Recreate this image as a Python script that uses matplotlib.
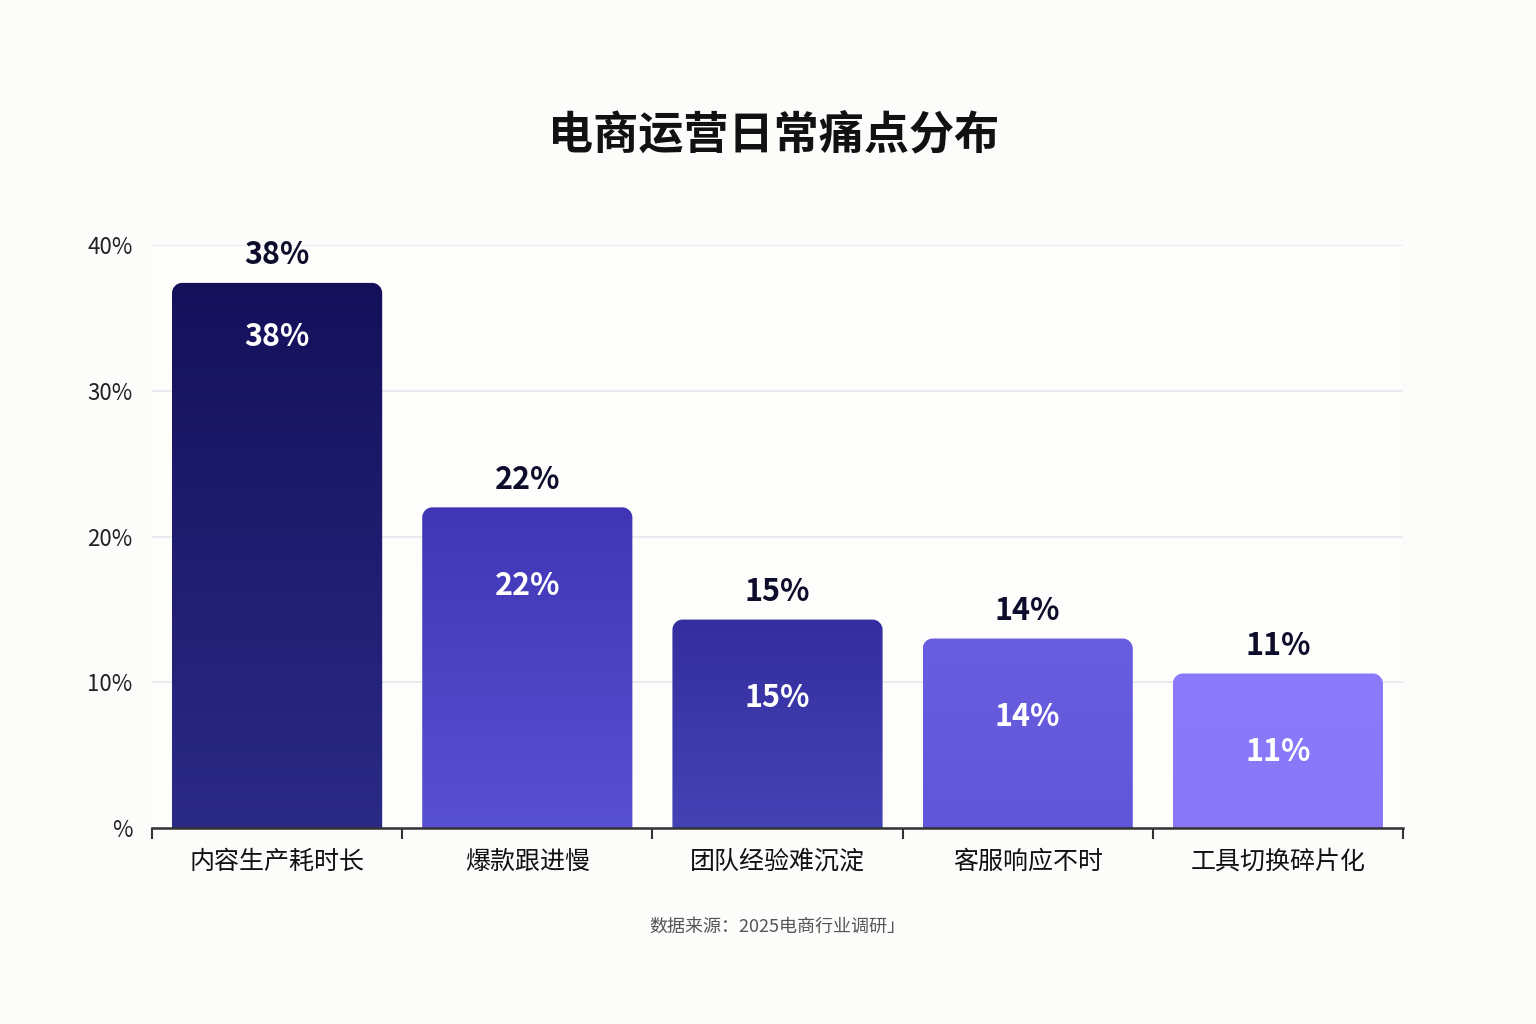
import matplotlib
matplotlib.use("Agg")
import matplotlib.pyplot as plt
import numpy as np
from matplotlib.path import Path
from matplotlib.patches import PathPatch
from matplotlib.colors import LinearSegmentedColormap

plt.rcParams["font.family"] = ["Noto Sans CJK SC", "DejaVu Sans"]

categories = ["内容生产耗时长", "爆款跟进慢", "团队经验难沉淀", "客服响应不时", "工具切换碎片化"]
values = [37.4, 22.0, 14.3, 13.0, 10.6]
value_labels = ["38%", "22%", "15%", "14%", "11%"]
yticks = [0, 10, 20, 30, 40]
ytick_labels = ["%", "10%", "20%", "30%", "40%"]

top_colors = ["#14105a", "#4036b5", "#342e9e", "#6a5ee0", "#8b7bfb"]
bottom_colors = ["#2b2a86", "#5850d2", "#4443b5", "#5f56d8", "#8878f7"]

fig = plt.figure(figsize=(15.36, 10.24), dpi=100)
fig.patch.set_facecolor("#fcfdfa")
ax = fig.add_axes([152 / 1536, 1 - 828 / 1024, 1251 / 1536, 583 / 1024])
ax.set_facecolor("#fdfdfc")

x = np.arange(len(categories))
width = 0.84
rx, ry = 0.04, 0.7  # corner radius in data units


def rounded_top(x0, x1, h):
    k = 0.55
    verts = [(x0, 0), (x0, h - ry), (x0, h - ry + k * ry), (x0 + rx - k * rx, h), (x0 + rx, h),
             (x1 - rx, h), (x1 - rx + k * rx, h), (x1, h - ry + k * ry), (x1, h - ry),
             (x1, 0), (x0, 0)]
    codes = [Path.MOVETO, Path.LINETO, Path.CURVE4, Path.CURVE4, Path.CURVE4,
             Path.LINETO, Path.CURVE4, Path.CURVE4, Path.CURVE4,
             Path.LINETO, Path.CLOSEPOLY]
    return Path(verts, codes)


for i, v in enumerate(values):
    x0, x1 = x[i] - width / 2, x[i] + width / 2
    patch = PathPatch(rounded_top(x0, x1, v), facecolor="none", edgecolor="none")
    ax.add_patch(patch)
    cmap = LinearSegmentedColormap.from_list("g", [bottom_colors[i], top_colors[i]])
    grad = np.linspace(0, 1, 256).reshape(-1, 1)
    im = ax.imshow(grad, cmap=cmap, origin="lower", extent=[x0, x1, 0, v],
                   aspect="auto", zorder=2, interpolation="bilinear")
    im.set_clip_path(patch)
    ax.text(x[i], v + 1.9, value_labels[i], ha="center", va="center",
            fontsize=22, fontweight="bold", color="#0d0d2b", zorder=3)
    inner_y = max(v - 5.3, v * 0.9)
    if i > 0:
        inner_y = v - 5.4
    ax.text(x[i], inner_y, value_labels[i], ha="center", va="center",
            fontsize=22, fontweight="bold", color="white", zorder=3)

ax.set_xlim(-0.5, len(categories) - 0.5)
ax.set_ylim(0, 40)
ax.set_yticks(yticks)
ax.set_yticklabels(ytick_labels, fontsize=16, color="#222222")
ax.tick_params(axis="y", length=0, pad=14)
ax.yaxis.grid(True, color="#e6e8ef", linewidth=1.2, zorder=0)
ax.set_axisbelow(True)

ax.set_xticks(np.arange(len(categories) + 1) - 0.5)
ax.set_xticklabels([])
ax.set_xticks(x, minor=True)
ax.set_xticklabels(categories, minor=True, fontsize=18, color="#111111")
ax.tick_params(axis="x", which="major", length=8, width=1.5, color="#333333", direction="out")
ax.tick_params(axis="x", which="minor", length=0, pad=15)

for s in ["top", "right", "left"]:
    ax.spines[s].set_visible(False)
ax.spines["bottom"].set_color("#333333")
ax.spines["bottom"].set_linewidth(1.8)
ax.spines["bottom"].set_zorder(4)

fig.text(0.5035, 1 - 136 / 1024, "电商运营日常痛点分布", ha="center", va="center",
         fontsize=32.5, fontweight="bold", color="#111111")
fig.text(0.506, 1 - 927 / 1024, "数据来源：2025电商行业调研」", ha="center", va="center",
         fontsize=13, color="#555555")

fig.savefig("out.png", dpi=100, facecolor=fig.get_facecolor())
